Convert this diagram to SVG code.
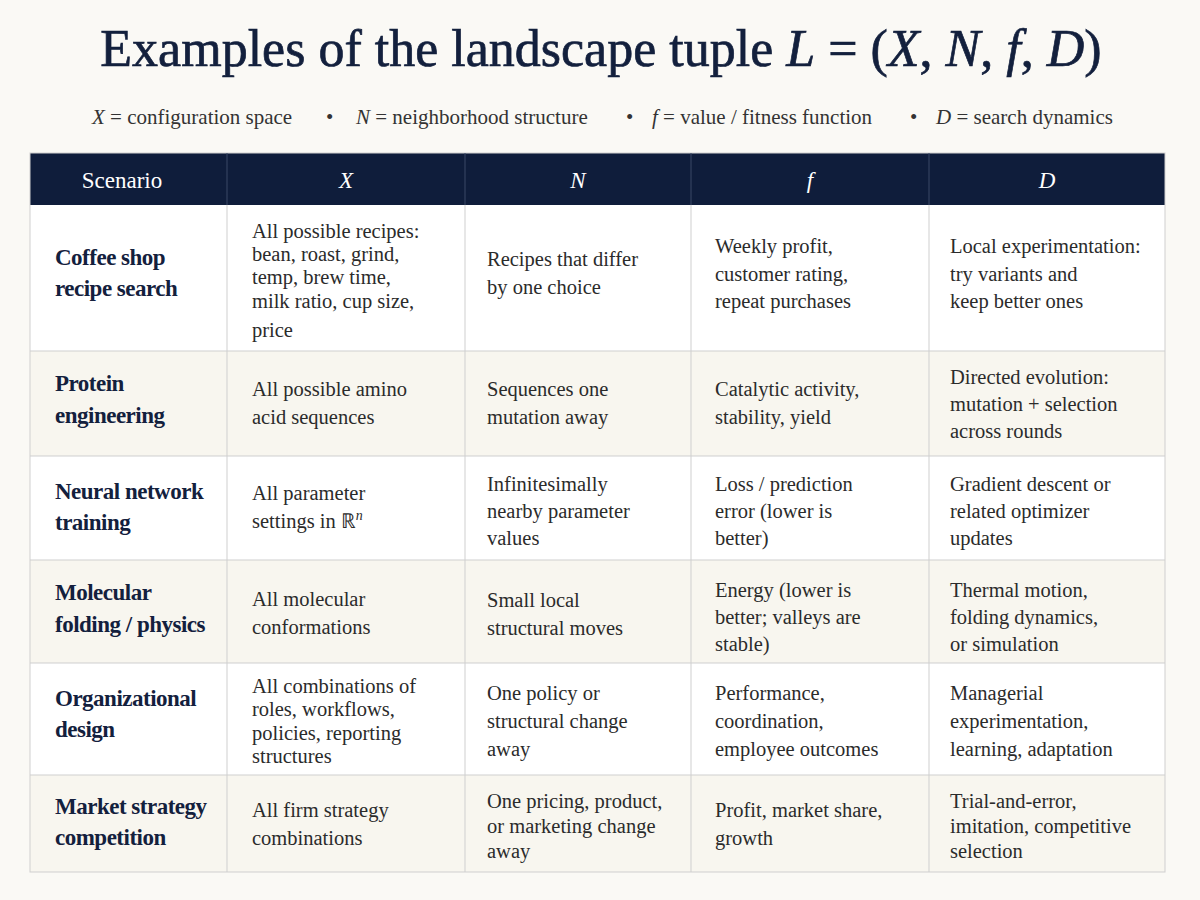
<svg xmlns="http://www.w3.org/2000/svg" width="1200" height="900" viewBox="0 0 1200 900">
<style>
.t{font-family:"Liberation Serif","DejaVu Serif",serif;}
.h{font-family:"Liberation Serif",serif;font-size:23px;fill:#fff;text-anchor:middle}
.s{font-family:"Liberation Serif",serif;font-size:23px;font-weight:bold;fill:#13203d;letter-spacing:-0.5px}
.c{font-family:"Liberation Serif",serif;font-size:20.5px;fill:#2b2b2b}
.g{stroke:#cfcfcf;stroke-width:1;fill:none}
</style>
<rect width="1200" height="900" fill="#faf9f5"/>
<text class="t" x="601" y="66" font-size="52" fill="#13203d" stroke="#13203d" stroke-width="0.7" text-anchor="middle">Examples of the landscape tuple <tspan font-style="italic">L</tspan> = (<tspan font-style="italic">X</tspan>, <tspan font-style="italic">N</tspan>, <tspan font-style="italic">f</tspan>, <tspan font-style="italic">D</tspan>)</text>
<g class="t" font-size="21" fill="#333">
<text x="92" y="124"><tspan font-style="italic">X</tspan> = configuration space</text>
<text x="326" y="124">•</text>
<text x="356" y="124"><tspan font-style="italic">N</tspan> = neighborhood structure</text>
<text x="626" y="124">•</text>
<text x="652" y="124"><tspan font-style="italic">f</tspan> = value / fitness function</text>
<text x="910" y="124">•</text>
<text x="936" y="124"><tspan font-style="italic">D</tspan> = search dynamics</text>
</g>
<g id="table">
<rect x="30" y="205" width="1135" height="146" fill="#fff"/>
<rect x="30" y="351" width="1135" height="105" fill="#f8f6ef"/>
<rect x="30" y="456" width="1135" height="104" fill="#fff"/>
<rect x="30" y="560" width="1135" height="103" fill="#f8f6ef"/>
<rect x="30" y="663" width="1135" height="112" fill="#fff"/>
<rect x="30" y="775" width="1135" height="97" fill="#f8f6ef"/>
<rect x="30" y="153" width="1135" height="52" fill="#0f1d3b"/>
<g class="g">
<rect x="30" y="153" width="1135" height="719"/>
<path d="M30 351H1165M30 456H1165M30 560H1165M30 663H1165M30 775H1165M227 205V872M465 205V872M691 205V872M929 205V872"/>
<path d="M227 153V205M465 153V205M691 153V205M929 153V205" stroke="#3a4866"/>
</g>
</g>
<g id="header">
<text class="h" x="122" y="188">Scenario</text>
<text class="h" x="346" y="188" font-style="italic">X</text>
<text class="h" x="578" y="188" font-style="italic">N</text>
<text class="h" x="810" y="188" font-style="italic">f</text>
<text class="h" x="1047" y="188" font-style="italic">D</text>
</g>
<g id="row1">
<text class="s" x="55" y="265">Coffee shop</text><text class="s" x="55" y="296">recipe search</text>
<text class="c" x="252" y="238">All possible recipes:</text><text class="c" x="252" y="261">bean, roast, grind,</text><text class="c" x="252" y="284">temp, brew time,</text><text class="c" x="252" y="308">milk ratio, cup size,</text><text class="c" x="252" y="337">price</text>
<text class="c" x="487" y="266">Recipes that differ</text><text class="c" x="487" y="294">by one choice</text>
<text class="c" x="715" y="253">Weekly profit,</text><text class="c" x="715" y="281">customer rating,</text><text class="c" x="715" y="308">repeat purchases</text>
<text class="c" x="950" y="253">Local experimentation:</text><text class="c" x="950" y="281">try variants and</text><text class="c" x="950" y="308">keep better ones</text>
</g>
<g id="row2">
<text class="s" x="55" y="391">Protein</text><text class="s" x="55" y="423">engineering</text>
<text class="c" x="252" y="396">All possible amino</text><text class="c" x="252" y="424">acid sequences</text>
<text class="c" x="487" y="396">Sequences one</text><text class="c" x="487" y="424">mutation away</text>
<text class="c" x="715" y="396">Catalytic activity,</text><text class="c" x="715" y="424">stability, yield</text>
<text class="c" x="950" y="384">Directed evolution:</text><text class="c" x="950" y="411">mutation + selection</text><text class="c" x="950" y="438">across rounds</text>
</g>
<g id="row3">
<text class="s" x="55" y="499">Neural network</text><text class="s" x="55" y="530">training</text>
<text class="c" x="252" y="500">All parameter</text><text class="c" x="252" y="528">settings in ℝ<tspan font-style="italic" font-size="14" dy="-8">n</tspan></text>
<text class="c" x="487" y="491">Infinitesimally</text><text class="c" x="487" y="518">nearby parameter</text><text class="c" x="487" y="545">values</text>
<text class="c" x="715" y="491">Loss / prediction</text><text class="c" x="715" y="518">error (lower is</text><text class="c" x="715" y="545">better)</text>
<text class="c" x="950" y="491">Gradient descent or</text><text class="c" x="950" y="518">related optimizer</text><text class="c" x="950" y="545">updates</text>
</g>
<g id="row4">
<text class="s" x="55" y="600">Molecular</text><text class="s" x="55" y="632">folding / physics</text>
<text class="c" x="252" y="606">All molecular</text><text class="c" x="252" y="634">conformations</text>
<text class="c" x="487" y="607">Small local</text><text class="c" x="487" y="635">structural moves</text>
<text class="c" x="715" y="597">Energy (lower is</text><text class="c" x="715" y="624">better; valleys are</text><text class="c" x="715" y="651">stable)</text>
<text class="c" x="950" y="597">Thermal motion,</text><text class="c" x="950" y="624">folding dynamics,</text><text class="c" x="950" y="651">or simulation</text>
</g>
<g id="row5">
<text class="s" x="55" y="706">Organizational</text><text class="s" x="55" y="737">design</text>
<text class="c" x="252" y="693">All combinations of</text><text class="c" x="252" y="716">roles, workflows,</text><text class="c" x="252" y="740">policies, reporting</text><text class="c" x="252" y="763">structures</text>
<text class="c" x="487" y="700">One policy or</text><text class="c" x="487" y="728">structural change</text><text class="c" x="487" y="756">away</text>
<text class="c" x="715" y="700">Performance,</text><text class="c" x="715" y="728">coordination,</text><text class="c" x="715" y="756">employee outcomes</text>
<text class="c" x="950" y="700">Managerial</text><text class="c" x="950" y="728">experimentation,</text><text class="c" x="950" y="756">learning, adaptation</text>
</g>
<g id="row6">
<text class="s" x="55" y="814">Market strategy</text><text class="s" x="55" y="845">competition</text>
<text class="c" x="252" y="817">All firm strategy</text><text class="c" x="252" y="845">combinations</text>
<text class="c" x="487" y="808">One pricing, product,</text><text class="c" x="487" y="833">or marketing change</text><text class="c" x="487" y="858">away</text>
<text class="c" x="715" y="817">Profit, market share,</text><text class="c" x="715" y="845">growth</text>
<text class="c" x="950" y="808">Trial-and-error,</text><text class="c" x="950" y="833">imitation, competitive</text><text class="c" x="950" y="858">selection</text>
</g>
</svg>
